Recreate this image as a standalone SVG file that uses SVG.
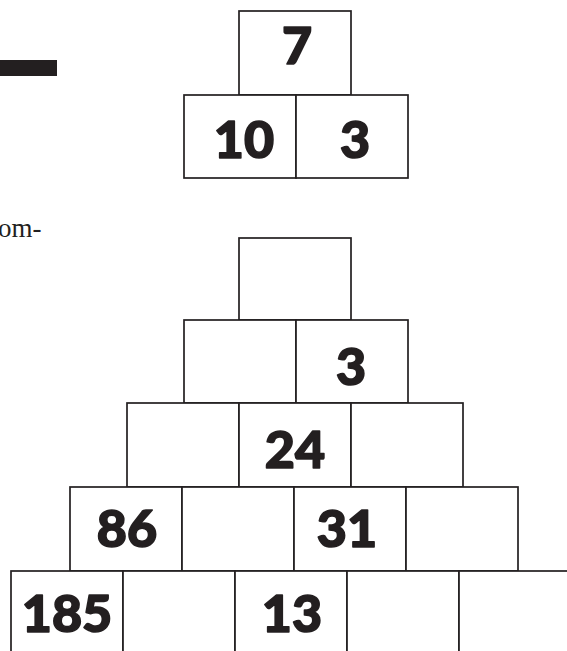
<svg xmlns="http://www.w3.org/2000/svg" width="567" height="651" viewBox="0 0 567 651">
<style>
.c{fill:#fff;stroke:#231f20;stroke-width:1.7}
.n{font-family:Lato,"Liberation Sans",sans-serif;font-weight:900;font-size:52px;fill:#231f20;stroke:#231f20;stroke-width:1.6;stroke-linejoin:round;text-anchor:middle}
.t{font-family:"Liberation Serif",serif;font-size:27px;fill:#231f20}
</style>
<rect width="567" height="651" fill="#fff"/>
<rect x="0" y="60" width="57" height="16" fill="#231f20"/>
<text class="t" x="-2" y="237">om-</text>
<g id="small-pyramid">
<g id="s1"><rect class="c" x="239" y="11" width="112" height="84"/><text class="n" x="297" y="64">7</text></g>
<g id="s2"><rect class="c" x="184" y="95" width="112" height="83"/><text class="n" x="244" y="158">10</text></g>
<g id="s3"><rect class="c" x="296" y="95" width="112" height="83"/><text class="n" x="355" y="158">3</text></g>
</g>
<g id="big-pyramid">
<g id="r1c1"><rect class="c" x="239" y="238" width="112" height="82"/></g>
<g id="r2c1"><rect class="c" x="184" y="320" width="112" height="83"/></g>
<g id="r2c2"><rect class="c" x="296" y="320" width="112" height="83"/><text class="n" x="351" y="385">3</text></g>
<g id="r3c1"><rect class="c" x="127" y="403" width="112" height="84"/></g>
<g id="r3c2"><rect class="c" x="239" y="403" width="112" height="84"/><text class="n" x="295" y="468">24</text></g>
<g id="r3c3"><rect class="c" x="351" y="403" width="112" height="84"/></g>
<g id="r4c1"><rect class="c" x="70" y="487" width="112" height="84"/><text class="n" x="127" y="547">86</text></g>
<g id="r4c2"><rect class="c" x="182" y="487" width="112" height="84"/></g>
<g id="r4c3"><rect class="c" x="294" y="487" width="112" height="84"/><text class="n" x="347" y="547">31</text></g>
<g id="r4c4"><rect class="c" x="406" y="487" width="112" height="84"/></g>
<g id="r5c1"><rect class="c" x="11" y="571" width="112" height="100"/><text class="n" x="67" y="632">185</text></g>
<g id="r5c2"><rect class="c" x="123" y="571" width="112" height="100"/></g>
<g id="r5c3"><rect class="c" x="235" y="571" width="112" height="100"/><text class="n" x="292" y="632">13</text></g>
<g id="r5c4"><rect class="c" x="347" y="571" width="112" height="100"/></g>
<g id="r5c5"><rect class="c" x="459" y="571" width="120" height="100"/></g>
</g>
<g id="connectors"/>
</svg>
